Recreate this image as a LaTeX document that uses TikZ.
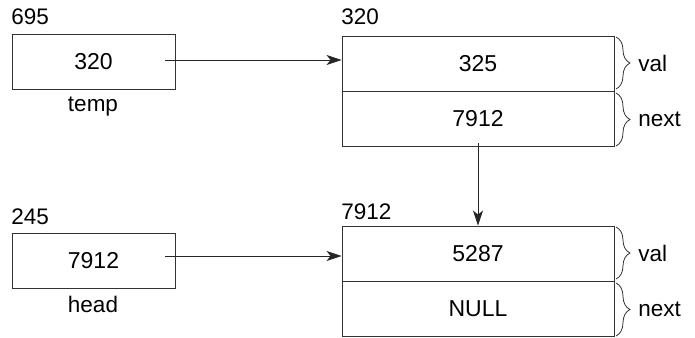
\documentclass[tikz,border=0pt]{standalone}
\usepackage{fontspec}
\setmainfont{Liberation Sans}
\usetikzlibrary{arrows.meta,decorations.pathreplacing}
\begin{document}
\begin{tikzpicture}[x=1pt,y=-1pt,
  line width=0.9pt,
  cell/.style={draw=black!80, rectangle, inner sep=0pt, minimum width=#1, minimum height=55pt, font=\fontsize{23}{25}\selectfont},
  cell/.default=163pt,
  lbl/.style={inner sep=0pt, font=\fontsize{22.5}{24}\selectfont},
  arr/.style={draw=black!85, -{Stealth[length=15pt,width=10pt,inset=4pt]}},
  brc/.style={draw=black!80, line width=0.8pt, decorate, decoration={brace, amplitude=14pt, raise=0pt}}
]
\useasboundingbox (0,0) rectangle (695,337);

% pointer boxes
\node[cell] (temp) at (93.5,61.5) {320};
\node[cell] (head) at (93.5,260.5) {7912};
\node[lbl, anchor=base west] (tempaddr) at (11,25) {695};
\node[lbl, anchor=base] (templbl) at (93,111) {temp};
\node[lbl, anchor=base west] (headaddr) at (11,224) {245};
\node[lbl, anchor=base] (headlbl) at (93,312) {head};

% struct 1
\node[cell=272pt] (sval) at (478,63.5) {325};
\node[cell=272pt] (snext) at (478,118.5) {7912};
\node[lbl, anchor=base west] (saddr) at (341,25) {320};

% struct 2
\node[cell=272pt] (bval) at (478,253.5) {5287};
\node[cell=272pt] (bnext) at (478,308.5) {NULL};
\node[lbl, anchor=base west] (baddr) at (341,219) {7912};

% braces
\draw[brc] (616,37) -- (616,89) node[midway, xshift=22pt, anchor=west, lbl] (sv) {val};
\draw[brc] (616,93) -- (616,146) node[midway, xshift=22pt, anchor=west, lbl] (sn) {next};
\draw[brc] (616,227) -- (616,279) node[midway, xshift=22pt, anchor=west, lbl] (bv) {val};
\draw[brc] (616,283) -- (616,336) node[midway, xshift=22pt, anchor=west, lbl] (bn) {next};

% pointers
\coordinate (tempptr) at (165,60);
\coordinate (headptr) at (165,256);
\coordinate (nextptr) at (478,143);
\draw[arr] (tempptr) -- (tempptr -| sval.west);
\draw[arr] (headptr) -- (headptr -| bval.west);
\draw[arr] (nextptr) -- (bval.north);
\end{tikzpicture}
\end{document}
